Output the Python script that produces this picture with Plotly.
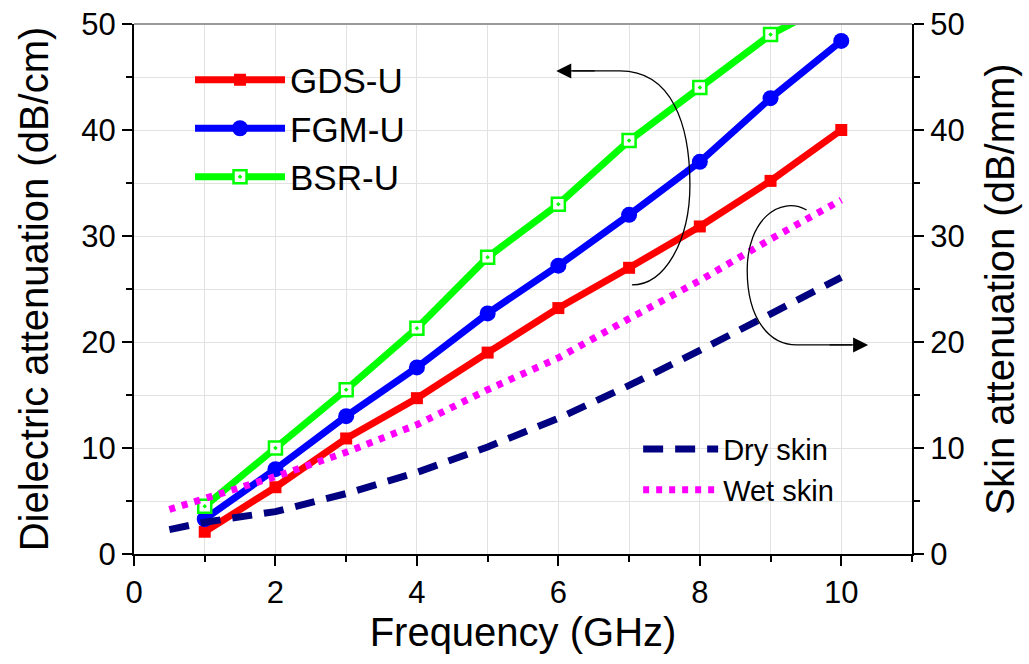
import plotly.graph_objects as go

# ---- data ----
freq = [1, 2, 3, 4, 5, 6, 7, 8, 9, 10]
gds_u = [2.1, 6.3, 10.9, 14.7, 19.0, 23.2, 27.0, 30.9, 35.2, 40.0]
fgm_u = [3.3, 8.0, 13.0, 17.6, 22.7, 27.2, 32.0, 37.0, 43.0, 48.4]
bsr_u = [4.5, 10.0, 15.5, 21.3, 28.0, 33.0, 39.0, 44.0, 49.0, 52.5]

skin_freq = [0.5, 1, 2, 3, 4, 5, 6, 7, 8, 9, 10]
dry_skin = [2.3, 3.0, 4.0, 5.7, 7.7, 10.1, 12.8, 15.9, 19.2, 22.6, 26.1]
wet_skin = [4.2, 5.2, 7.3, 9.6, 12.2, 15.5, 18.5, 22.2, 25.8, 29.7, 33.4]

x_ticks = [0, 2, 4, 6, 8, 10]
y_ticks = [0, 10, 20, 30, 40, 50]

FONT = "Liberation Sans, Arial, sans-serif"
GRID = "#e2e2e2"

fig = go.Figure()

fig.add_trace(go.Scatter(x=freq, y=gds_u, name="GDS-U", mode="lines+markers",
                         line=dict(color="#ff0000", width=7),
                         marker=dict(symbol="square", size=12, color="#ff0000")))
fig.add_trace(go.Scatter(x=freq, y=fgm_u, name="FGM-U", mode="lines+markers",
                         line=dict(color="#0000ff", width=7),
                         marker=dict(symbol="circle", size=16, color="#0000ff")))
fig.add_trace(go.Scatter(x=freq, y=bsr_u, name="BSR-U", mode="lines+markers",
                         line=dict(color="#00ff00", width=7),
                         marker=dict(symbol="square-dot", size=13, color="white",
                                     line=dict(color="#00ff00", width=2.5))))
fig.add_trace(go.Scatter(x=skin_freq, y=dry_skin, name="Dry skin", mode="lines",
                         yaxis="y2", legend="legend2",
                         line=dict(color="#000080", width=7, dash="20px,12px")))
fig.add_trace(go.Scatter(x=skin_freq, y=wet_skin, name="Wet skin", mode="lines",
                         yaxis="y2", legend="legend2",
                         line=dict(color="#ff00ff", width=7, dash="6px,7px")))

axis_common = dict(
    showline=True, linecolor="black", linewidth=2,
    ticks="outside", ticklen=10, tickwidth=2, tickcolor="black",
    tickfont=dict(family=FONT, size=31, color="black"),
    zeroline=False, automargin=False,
)

fig.update_layout(
    width=1029, height=664,
    margin=dict(l=134, r=117, t=24, b=110),
    plot_bgcolor="white", paper_bgcolor="white",
    font=dict(family=FONT, color="black"),
    xaxis=dict(range=[0, 11], tickvals=x_ticks, ticktext=[str(v) for v in x_ticks],
               showgrid=True, gridcolor=GRID, gridwidth=1,
               minor=dict(dtick=1, tick0=0, ticks="outside", ticklen=6, tickwidth=2,
                          tickcolor="black", showgrid=True, gridcolor=GRID, gridwidth=1),
               title=dict(text="Frequency (GHz)", font=dict(family=FONT, size=40), standoff=8),
               **axis_common),
    yaxis=dict(range=[0, 50], tickvals=y_ticks, ticktext=[str(v) for v in y_ticks],
               showgrid=True, gridcolor=GRID, gridwidth=1,
               minor=dict(dtick=5, tick0=0, ticks="outside", ticklen=6, tickwidth=2,
                          tickcolor="black", showgrid=True, gridcolor=GRID, gridwidth=1),
               title=dict(text="Dielectric attenuation (dB/cm)", font=dict(family=FONT, size=40),
                          standoff=20),
               **axis_common),
    yaxis2=dict(range=[0, 50], tickvals=y_ticks, ticktext=[str(v) for v in y_ticks],
                overlaying="y", side="right", showgrid=False,
                minor=dict(dtick=5, tick0=0, ticks="outside", ticklen=6, tickwidth=2,
                           tickcolor="black"),
                title=dict(text="Skin attenuation (dB/mm)", font=dict(family=FONT, size=40),
                           standoff=22),
                **axis_common),
    legend=dict(x=0.072, y=0.95, xanchor="left", yanchor="top",
                bgcolor="rgba(0,0,0,0)", font=dict(family=FONT, size=35, color="black"),
                itemwidth=90, tracegroupgap=0),
    legend2=dict(x=0.648, y=0.246, xanchor="left", yanchor="top",
                 bgcolor="rgba(0,0,0,0)", font=dict(family=FONT, size=29, color="black"),
                 itemwidth=75),
    showlegend=True,
)

# top frame line
fig.add_shape(type="line", xref="paper", yref="paper", x0=0, x1=1, y0=1, y1=1,
              line=dict(color="#9a9a9a", width=2))

# curved arrows (data coordinates)
fig.add_shape(type="path", xref="x", yref="y",
              path="M7.04,25.38 C7.51,25.38 7.86,29.62 7.86,34.81 "
                   "C7.86,40.47 7.61,45.57 6.87,45.57 L6.2,45.57",
              line=dict(color="black", width=1.3))
fig.add_annotation(x=5.97, y=45.57, xref="x", yref="y", ax=40, ay=0, text="",
                   showarrow=True, arrowhead=2, arrowsize=2.5, arrowwidth=1.2,
                   arrowcolor="black", standoff=0)
fig.add_shape(type="path", xref="x", yref="y",
              path="M9.51,32.45 C9.13,33.87 8.67,31.51 8.67,26.79 "
                   "C8.67,22.08 8.99,19.72 9.37,19.72 L10.15,19.72",
              line=dict(color="black", width=1.3))
fig.add_annotation(x=10.38, y=19.72, xref="x", yref="y", ax=-40, ay=0, text="",
                   showarrow=True, arrowhead=2, arrowsize=2.5, arrowwidth=1.2,
                   arrowcolor="black", standoff=0)

fig.write_html("out.html")
